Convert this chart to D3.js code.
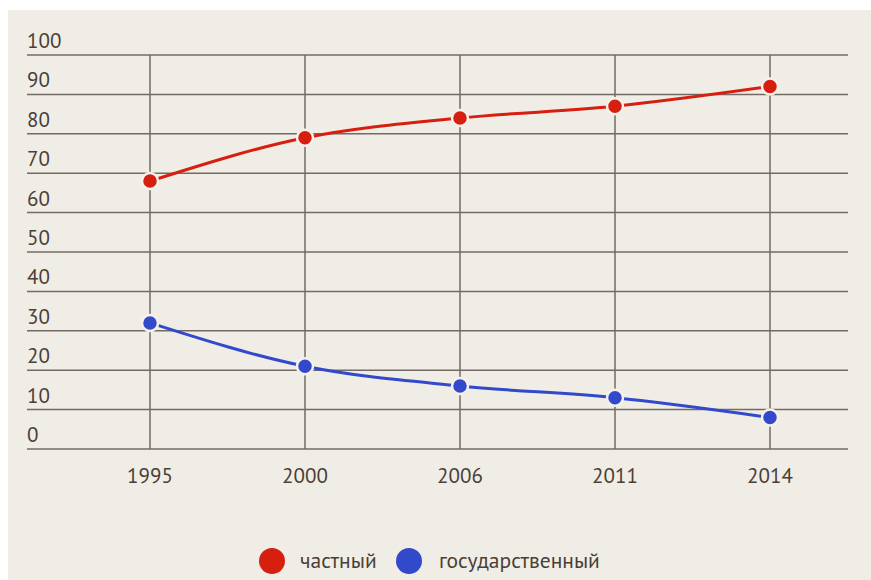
<!DOCTYPE html>
<html><head><meta charset="utf-8">
<script src="https://cdn.jsdelivr.net/npm/d3@7"></script>
<style>html,body{margin:0;padding:0;background:#fff;}svg{display:block;}</style>
</head><body>
<svg id="c" width="871" height="580"></svg>
<script>
const years = ["1995", "2000", "2006", "2011", "2014"];
const privateVals = [68, 79, 84, 87, 92];
const stateVals = [32, 21, 16, 13, 8];
const yTicks = [0, 10, 20, 30, 40, 50, 60, 70, 80, 90, 100];
const seriesNames = ["частный", "государственный"];
const seriesColors = ["#d61f0f", "#3349cc"];

const svg = d3.select("#c");
const textColor = "#4a3f36";
const font = "'PT Sans', 'Noto Sans', sans-serif";

svg.append("rect").attr("x", 8).attr("y", 10).attr("width", 863).attr("height", 570).attr("fill", "#f0ede6");

const x = d3.scalePoint().domain(years).range([150, 770]);
const y = d3.scaleLinear().domain([0, 100]).range([449, 55]);
const left = 27, right = 848;

const g = svg.append("g");
g.selectAll("line.h").data(yTicks).join("line")
  .attr("x1", left).attr("x2", right)
  .attr("y1", d => y(d)).attr("y2", d => y(d))
  .attr("stroke", "#736b63").attr("stroke-width", 1.5);
g.selectAll("line.v").data(years).join("line")
  .attr("x1", d => x(d)).attr("x2", d => x(d))
  .attr("y1", y(100)).attr("y2", y(0))
  .attr("stroke", "#736b63").attr("stroke-width", 1.5);

g.selectAll("text.yl").data(yTicks).join("text")
  .attr("x", left).attr("y", d => y(d) - 7)
  .attr("fill", textColor).attr("font-family", font).attr("font-size", 21)
  .text(d => d);
g.selectAll("text.xl").data(years).join("text")
  .attr("x", d => x(d)).attr("y", 483).attr("text-anchor", "middle")
  .attr("fill", textColor).attr("font-family", font).attr("font-size", 21)
  .text(d => d);

const series = [privateVals, stateVals];
const line = d3.line().x((d, i) => x(years[i])).y(d => y(d)).curve(d3.curveMonotoneX);
series.forEach((vals, si) => {
  g.append("path").attr("d", line(vals)).attr("fill", "none")
    .attr("stroke", seriesColors[si]).attr("stroke-width", 3);
  g.selectAll("circle.s" + si).data(vals).join("circle")
    .attr("cx", (d, i) => x(years[i])).attr("cy", d => y(d)).attr("r", 8)
    .attr("fill", seriesColors[si]).attr("stroke", "#f4f1ec").attr("stroke-width", 2.5);
});

const legendPos = [{cx: 272, tx: 300}, {cx: 409, tx: 439}];
seriesNames.forEach((n, i) => {
  svg.append("circle").attr("cx", legendPos[i].cx).attr("cy", 561).attr("r", 13)
    .attr("fill", seriesColors[i]);
  svg.append("text").attr("x", legendPos[i].tx).attr("y", 568)
    .attr("fill", textColor).attr("font-family", font).attr("font-size", 21.5)
    .text(n);
});
</script>
</body></html>
